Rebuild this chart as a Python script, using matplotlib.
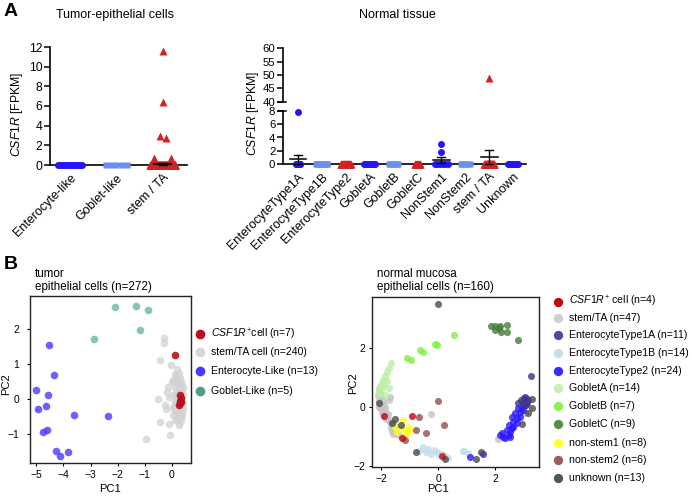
import matplotlib
matplotlib.use('Agg')
import matplotlib.pyplot as plt
from matplotlib.lines import Line2D
import numpy as np

plt.rcParams['font.family'] = ['Liberation Sans', 'DejaVu Sans']
plt.rcParams['mathtext.fontset'] = 'custom'
plt.rcParams['mathtext.rm'] = 'Liberation Sans'
plt.rcParams['mathtext.it'] = 'Liberation Sans:italic'

# ---------------- data: panel A ----------------
tumor_groups = ['Enterocyte-like', 'Goblet-like', 'stem / TA']
tumor_counts = [13, 5, 247]
tumor_nonzero = [[], [], [11.6, 6.4, 2.9, 2.7, 0.7, 0.7]]

normal_groups = ['EnterocyteType1A', 'EnterocyteType1B', 'EnterocyteType2', 'GobletA',
                 'GobletB', 'GobletC', 'NonStem1', 'NonStem2', 'stem / TA', 'Unknown']
normal_counts = [11, 14, 24, 14, 7, 9, 8, 6, 47, 13]
normal_nonzero = [[7.8], [], [], [], [], [], [3.0, 1.8], [], [49.0], []]

# ---------------- data: panel B, tumor ----------------
t_csf_x = [0.12, 0.30, 0.33, 0.28, 0.31, 0.27, 0.34]
t_csf_y = [1.26, 0.10, 0.03, -0.05, -0.12, -0.17, -0.08]
t_stem_x = [-0.29, -0.29, -0.44, -0.05, 0.11, 0.05, 0.23, -0.14, -0.20, -0.50, 0.17, -0.26,
            -0.22, 0.05, 0.17, -0.44, -0.10, -0.95, -0.09, -0.10,
            0.15, 0.30, 0.20, 0.35, 0.10, 0.25, 0.38, 0.15, 0.30, 0.40, 0.05, 0.22, 0.35,
            0.12, 0.28, 0.40, 0.18, 0.32, 0.08, 0.25, 0.38, 0.15, 0.30, 0.22, 0.35, 0.10,
            0.00, 0.27, 0.33, 0.20, 0.42, 0.05, 0.12, 0.30, 0.38, 0.20, 0.25, 0.35, 0.40, 0.10]
t_stem_y = [1.74, 1.60, 1.13, 0.97, 0.73, 0.54, 0.49, 0.35, 0.20, 0.01, 0.11, -0.18,
            -0.28, -0.23, -0.42, -0.66, -0.71, -1.14, -1.05, 0.05,
            0.65, 0.60, 0.45, 0.42, 0.35, 0.32, 0.28, 0.20, 0.18, 0.12, 0.10, 0.05, 0.00,
            -0.05, -0.10, -0.15, -0.20, -0.25, -0.30, -0.35, -0.38, -0.45, -0.50, -0.60, -0.62, -0.15,
            0.50, 0.75, 0.50, -0.05, 0.35, -0.45, 0.55, 0.05, -0.50, 0.85, -0.75, 0.20, -0.30, -0.60]
t_ent_x = [-4.53, -4.35, -5.00, -4.55, -4.94, -4.65, -3.62, -2.36, -4.75, -4.60, -4.26, -4.11, -3.83]
t_ent_y = [1.55, 0.68, 0.25, 0.12, -0.30, -0.20, -0.45, -0.48, -0.95, -0.89, -1.51, -1.65, -1.52]
t_gob_x = [-2.09, -1.34, -0.88, -1.18, -2.89]
t_gob_y = [2.63, 2.68, 2.55, 1.98, 1.73]

# ---------------- data: panel B, normal ----------------
n_csf_x = [-1.91, -0.93, -1.28, 0.12]
n_csf_y = [-0.29, -0.29, -1.03, -1.65]
n_stem_x = [-2.10, -2.05, -2.00, -2.08, -1.95, -2.02, -1.90, -2.05, -1.95, -1.85, -1.90, -1.80,
            -1.75, -1.70, -1.65, -1.60, -1.55, -1.50, -1.45, -1.40, -1.69, -1.72, -2.12, -1.98,
            -1.88, -1.78, -1.62, -1.52, -0.26, 2.08, 3.04, -2.07, -1.83, -1.68, -1.58]
n_stem_y = [0.60, 0.45, 0.35, 0.25, 0.20, 0.10, 0.05, -0.05, -0.12, -0.20, -0.30, -0.35,
            -0.45, -0.50, -0.60, -0.70, -0.75, -0.85, -0.90, -0.95, 0.35, 0.25, 0.40, -0.20,
            -0.05, -0.25, -0.80, -0.65, -0.24, -1.08, -0.21, 0.00, -0.40, -0.70, -0.90]
n_e1a_x = [3.25, 3.00, 3.05, 3.10, 3.15, 3.05, 3.12, 2.98, 3.08, 2.81, 2.90]
n_e1a_y = [1.04, 0.30, 0.32, 0.28, 0.25, 0.20, 0.15, 0.12, 0.08, 0.12, 0.22]
n_e1b_x = [-0.55, -0.37, -0.17, -0.06, -0.26, -0.44, 0.14, 0.33, 0.86, 1.03, -0.67, 0.03, 0.91, 0.22]
n_e1b_y = [-1.36, -1.43, -1.45, -1.50, -1.58, -1.50, -1.58, -1.72, -1.47, -1.56, -1.48, -1.60, -1.48, -1.65]
n_e2_x = [2.22, 2.34, 2.52, 2.40, 2.57, 2.63, 2.46, 2.75, 2.69, 2.87, 2.81, 2.92, 2.98, 2.57,
          2.75, 2.52, 2.28, 2.17, 2.63, 2.87, 3.04, 1.58, 1.11, 2.46]
n_e2_y = [-0.89, -1.06, -1.00, -0.78, -0.72, -0.50, -0.61, -0.38, -0.21, -0.16, -0.04, 0.01,
          -0.10, -0.33, -0.55, -0.83, -1.00, -0.94, -0.66, -0.33, 0.07, -1.59, -1.70, -0.94]
n_goba_x = [-1.67, -1.79, -1.87, -1.93, -1.81, -2.05, -1.75, -2.10, -1.87, -1.98, -1.72, -2.02, -1.90, -2.08]
n_goba_y = [1.47, 1.17, 1.05, 0.91, 0.86, 0.72, 0.65, 0.52, 0.41, 0.80, 1.30, 0.60, 0.70, 0.45]
n_gobb_x = [0.53, -0.12, -0.06, -0.64, -0.55, -1.11, -0.97]
n_gobb_y = [2.42, 2.11, 2.09, 1.92, 1.84, 1.64, 1.58]
n_gobc_x = [1.85, 1.99, 2.16, 2.40, 1.97, 2.20, 2.40, 2.11, 2.79]
n_gobc_y = [2.73, 2.71, 2.71, 2.76, 2.58, 2.53, 2.51, 2.65, 2.26]
n_ns1_x = [-1.25, -1.46, -1.28, -1.11, -0.99, -1.15, -1.52, -1.06]
n_ns1_y = [-0.44, -0.83, -0.72, -0.83, -0.77, -0.94, -0.67, -0.67]
n_ns2_x = [0.00, -0.67, 0.18, -0.79, -0.43, -1.18]
n_ns2_y = [0.20, -0.35, -0.61, -0.77, -0.89, -1.12]
n_unk_x = [-0.02, -2.08, -1.54, -1.30, -0.78, 0.24, 1.50, 1.33, 3.29, 3.14, 2.93, 3.28, -1.62]
n_unk_y = [3.46, 0.13, -0.41, -0.62, -1.50, -1.76, -1.50, -1.76, 0.27, -0.21, -0.57, -0.04, -0.55]

W, H = 692, 496


def box(l, t, r, b):
    return [l / W, 1 - b / H, (r - l) / W, (b - t) / H]


STYLES = [('o', '#2414ff', 5.0), ('s', '#6b8ff0', 4.3), ('^', '#d42222', 5.4)]


def strip(ax, i, nonzero, n, spread, offsets=None):
    marker, color, ms = STYLES[i % 3]
    nz = len(nonzero)
    xs = i + np.linspace(-spread, spread, n - nz)
    ax.plot(xs, np.zeros(n - nz), ls='none', marker=marker, ms=ms, color=color,
            mec='none', clip_on=False, zorder=3)
    if nz:
        off = offsets if offsets is not None else [0] * nz
        ax.plot(i + np.array(off), nonzero, ls='none', marker=marker, ms=ms, color=color,
                mec='none', clip_on=False, zorder=3)


def mean_sem(ax, i, nonzero, n, half, cap, lw):
    vals = np.concatenate([nonzero, np.zeros(n - len(nonzero))])
    m = vals.mean()
    sem = vals.std(ddof=1) / np.sqrt(n)
    ax.plot([i - half, i + half], [m, m], color='k', lw=lw, zorder=5, clip_on=False)
    ax.plot([i, i], [m - sem, m + sem], color='k', lw=1, zorder=5, clip_on=False)
    for v in (m - sem, m + sem):
        ax.plot([i - cap, i + cap], [v, v], color='k', lw=1, zorder=5, clip_on=False)


def style_a(ax, ysize=8.7):
    for s in ('top', 'right'):
        ax.spines[s].set_visible(False)
    ax.spines['left'].set_linewidth(1.2)
    ax.spines['bottom'].set_linewidth(1.2)
    ax.tick_params(axis='y', length=4, width=1.1, labelsize=ysize, pad=1.5)
    ax.tick_params(axis='x', length=0, labelsize=9, pad=5)


fig = plt.figure(figsize=(W / 100, H / 100), dpi=100)

# ---------------- A: tumor ----------------
ax = fig.add_axes(box(50, 47, 187, 165))
style_a(ax)
spreads_t = [0.26, 0.23, 0.27]
for i in range(3):
    offs = [0, 0, -0.06, 0.06, -0.2, 0.17] if i == 2 else None
    strip(ax, i, tumor_nonzero[i], tumor_counts[i], spreads_t[i], offs)
mean_sem(ax, 2, tumor_nonzero[2], tumor_counts[2], 0.18, 0.08, 1.5)
ax.set_xlim(-0.43, 2.52)
ax.set_ylim(0, 12)
ax.set_yticks(range(0, 13, 2))
ax.set_xticks(range(3))
ax.set_xticklabels(tumor_groups, rotation=45, ha='right', rotation_mode='anchor')
fig.text(115 / W, 1 - 15 / H, 'Tumor-epithelial cells', ha='center', va='center', fontsize=9)
fig.text(17 / W, 1 - 114 / H, r'$\mathit{CSF1R}$ [FPKM]', rotation=90, ha='center',
         va='center', fontsize=8.8)

# ---------------- A: normal (broken axis) ----------------
ax_lo = fig.add_axes(box(283, 111, 526, 164))
ax_up = fig.add_axes(box(283, 48, 526, 102), sharex=ax_lo)
style_a(ax_lo, 8.2)
style_a(ax_up, 8.2)
ax_up.spines['bottom'].set_visible(False)
ax_up.tick_params(axis='x', bottom=False, labelbottom=False)
spreads_n = [0.10, 0.23, 0.20, 0.23, 0.20, 0.12, 0.28, 0.20, 0.20, 0.21]
for i in range(10):
    lo = [v for v in normal_nonzero[i] if v <= 8]
    hi = [v for v in normal_nonzero[i] if v > 8]
    strip(ax_lo, i, lo, normal_counts[i] - len(hi), spreads_n[i])
    if hi:
        marker, color, ms = STYLES[i % 3]
        ax_up.plot([i] * len(hi), hi, ls='none', marker=marker, ms=ms, color=color, mec='none')
    if normal_nonzero[i]:
        mean_sem(ax_lo, i, normal_nonzero[i], normal_counts[i], 0.35, 0.17, 1.1)
ax_lo.set_xlim(-0.63, 9.54)
ax_lo.set_ylim(0, 8)
ax_lo.set_yticks(range(0, 9, 2))
ax_up.set_ylim(40, 60)
ax_up.set_yticks(range(40, 61, 5))
ax_lo.set_xticks(range(10))
ax_lo.set_xticklabels(normal_groups, rotation=45, ha='right', rotation_mode='anchor')
for a, yv in ((ax_up, 0), (ax_lo, 1)):
    a.plot([-0.022, 0.013], [yv, yv], transform=a.transAxes, color='k', lw=1.1, clip_on=False)
fig.text(397 / W, 1 - 15 / H, 'Normal tissue', ha='center', va='center', fontsize=9)
fig.text(253 / W, 1 - 113 / H, r'$\mathit{CSF1R}$ [FPKM]', rotation=90, ha='center',
         va='center', fontsize=8.8)

fig.text(4 / W, 1 - 3 / H, 'A', fontsize=14, fontweight='bold', va='top')
fig.text(4 / W, 1 - 256 / H, 'B', fontsize=14, fontweight='bold', va='top')


# ---------------- B helpers ----------------
def style_b(ax, ypad):
    for s in ax.spines.values():
        s.set_linewidth(1.0)
        s.set_color('#222222')
    ax.tick_params(axis='x', length=2.5, width=0.8, labelsize=7.5, pad=2.5)
    ax.tick_params(axis='y', length=2.5, width=0.8, labelsize=7.5, pad=ypad)


def legend_rows(x_marker, x_text, ys, labels, colors, ms):
    for y, lab, c in zip(ys, labels, colors):
        fig.add_artist(Line2D([x_marker / W], [1 - y / H], marker='o', ms=ms, color=c,
                              mec='none', ls='none', transform=fig.transFigure))
        fig.text(x_text / W, 1 - y / H, lab, fontsize=7.6, va='center', ha='left')


# ---------------- B: tumor PCA ----------------
axb = fig.add_axes(box(29.7, 296, 190.7, 463.3))
style_b(axb, 5)
axb.scatter(t_stem_x, t_stem_y, s=30, color='#d2d2d2', alpha=0.75, lw=0)
axb.scatter(t_ent_x, t_ent_y, s=30, color='#4a38ff', alpha=0.8, lw=0)
axb.scatter(t_gob_x, t_gob_y, s=30, color='#5fb0a2', alpha=0.75, lw=0)
axb.scatter(t_csf_x, t_csf_y, s=30, color='#b8101a', alpha=0.9, lw=0)
axb.set_xlim(-5.24, 0.69)
axb.set_ylim(-1.85, 2.96)
axb.set_xticks(range(-5, 1))
axb.set_yticks(range(-1, 3))
fig.text(35 / W, 1 - 293 / H, 'tumor\nepithelial cells (n=272)', fontsize=8.4,
         va='bottom', ha='left', linespacing=1.15)
fig.text(110 / W, 1 - 489 / H, 'PC1', fontsize=8, ha='center', va='center')
fig.text(6 / W, 1 - 384 / H, 'PC2', fontsize=8, ha='center', va='center', rotation=90)
legend_rows(200, 210.7, [334, 351.7, 371.3, 390.7],
            [r'$\mathit{CSF1R}^{+}$cell (n=7)', 'stem/TA cell (n=240)',
             'Enterocyte-Like (n=13)', 'Goblet-Like (n=5)'],
            ['#b8101a', '#d6d6d6', '#4a38ff', '#4f9f88'], 7)

# ---------------- B: normal PCA ----------------
axn = fig.add_axes(box(372, 297, 539, 467))
style_b(axn, 2)
sets = [
    (n_stem_x, n_stem_y, '#c4c4c4'),
    (n_goba_x, n_goba_y, '#bdeea4'),
    (n_gobb_x, n_gobb_y, '#7ff045'),
    (n_gobc_x, n_gobc_y, '#437f33'),
    (n_e1b_x, n_e1b_y, '#c3dbea'),
    (n_e2_x, n_e2_y, '#2a18ff'),
    (n_e1a_x, n_e1a_y, '#3d358f'),
    (n_ns1_x, n_ns1_y, '#ffff22'),
    (n_ns2_x, n_ns2_y, '#944e4e'),
    (n_unk_x, n_unk_y, '#4a4a4a'),
    (n_csf_x, n_csf_y, '#c00812'),
]
for xs, ys, c in sets:
    axn.scatter(xs, ys, s=26, color=c, alpha=0.8, lw=0)
axn.set_xlim(-2.33, 3.53)
axn.set_ylim(-2.02, 3.70)
axn.set_xticks([-2, 0, 2])
axn.set_yticks([-2, 0, 2])
fig.text(377 / W, 1 - 293 / H, 'normal mucosa\nepithelial cells (n=160)', fontsize=8.4,
         va='bottom', ha='left', linespacing=1.15)
fig.text(438 / W, 1 - 489.5 / H, 'PC1', fontsize=8, ha='center', va='center')
fig.text(352.7 / W, 1 - 383 / H, 'PC2', fontsize=8, ha='center', va='center', rotation=90)
legend_rows(558.3, 568.7,
            [301.7, 318.3, 335.3, 352.7, 370.7, 388.3, 405.7, 424, 442.7, 460, 477.7],
            [r'$\mathit{CSF1R}^{+}$ cell (n=4)', 'stem/TA (n=47)', 'EnterocyteType1A (n=11)',
             'EnterocyteType1B (n=14)', 'EnterocyteType2 (n=24)', 'GobletA (n=14)',
             'GobletB (n=7)', 'GobletC (n=9)', 'non-stem1 (n=8)', 'non-stem2 (n=6)',
             'unknown (n=13)'],
            ['#c00812', '#cfcfcf', '#5048a8', '#c8dcea', '#3a2aff', '#c7f0b2', '#88f255',
             '#558f42', '#ffff33', '#9e5b5b', '#555555'], 6.7)

fig.savefig('out.png', dpi=100)
